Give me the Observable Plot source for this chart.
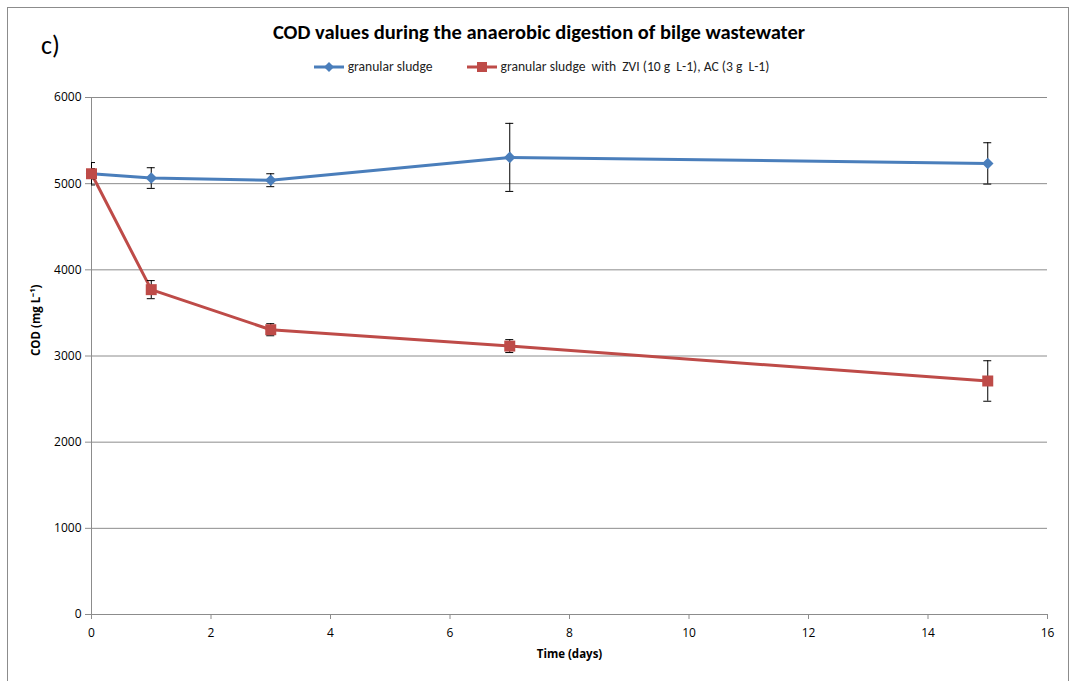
<!DOCTYPE html>
<html>
<head>
<meta charset="utf-8">
<script src="https://cdn.jsdelivr.net/npm/d3@7"></script>
<script src="https://cdn.jsdelivr.net/npm/@observablehq/plot@0.6"></script>
<style>
  html, body { margin: 0; padding: 0; background: #fff; overflow: hidden; }
  body { width: 1073px; height: 681px; position: relative; font-family: "Carlito", "Liberation Sans Narrow", "Open Sans", sans-serif; }
  #frame { position: absolute; left: 7px; top: 7px; width: 1062px; height: 700px; border: 1px solid #8c8c8c; box-sizing: border-box; }
  #panel { position: absolute; left: 41px; top: 29px; font-size: 26px; color: #000; }
  #title { position: absolute; left: 0; width: 1078px; top: 19px; text-align: center; font-weight: bold; font-size: 20.5px; color: #000; }
  #legend { position: absolute; left: 0; width: 1083px; top: 58px; text-align: center; font-size: 13.6px; color: #222; white-space: nowrap; }
  #legend span.item { display: inline-flex; align-items: center; margin: 0 17px; }
  #legend svg { margin-right: 4px; }
  #chart { position: absolute; left: 0; top: 80px; }
  #chart svg text { font-family: "Open Sans", sans-serif; }
</style>
</head>
<body>
<div id="frame"></div>
<div id="panel">c)</div>
<div id="title">COD values during the anaerobic digestion of bilge wastewater</div>
<div id="legend"></div>
<div id="chart"></div>
<script>
// ---- data ----
const days = [0, 1, 3, 7, 15];
const seriesNames = ["granular sludge", "granular sludge  with  ZVI (10 g  L-1), AC (3 g  L-1)"];
const gsCOD  = [5115, 5065, 5040, 5305, 5235];
const gsErr  = [130, 120, 75, 395, 240];
const zviCOD = [5115, 3770, 3305, 3115, 2710];
const zviErr = [60, 105, 70, 75, 235];
const xTicks = [0, 2, 4, 6, 8, 10, 12, 14, 16];
const yTicks = [0, 1000, 2000, 3000, 4000, 5000, 6000];
const colors = ["#4A7EBB", "#BE4B48"];
const symbols = ["diamond2", "square"];

const gs = days.map((d, i) => ({day: d, cod: gsCOD[i], err: gsErr[i]}));
const zvi = days.map((d, i) => ({day: d, cod: zviCOD[i], err: zviErr[i]}));

// legend
const legend = document.getElementById("legend");
seriesNames.forEach((name, k) => {
  const item = document.createElement("span");
  item.className = "item";
  const sym = k === 0
    ? `<path d="M15,1 L20,6 L15,11 L10,6 Z" fill="${colors[k]}"/>`
    : `<rect x="10" y="1" width="10" height="10" fill="${colors[k]}"/>`;
  item.innerHTML = `<svg width="30" height="12"><line x1="0" x2="30" y1="6" y2="6" stroke="${colors[k]}" stroke-width="3"/>${sym}</svg><span style="white-space:pre">${name}</span>`;
  legend.appendChild(item);
});

function seriesMarks(data, k, r) {
  return [
    Plot.line(data, {x: "day", y: "cod", stroke: colors[k], strokeWidth: 3}),
    Plot.ruleX(data, {x: "day", y1: d => d.cod - d.err, y2: d => d.cod + d.err, stroke: "#000", strokeWidth: 1}),
    Plot.ruleY(data, {x1: "day", x2: "day", y: d => d.cod + d.err, insetLeft: -4, insetRight: -4, stroke: "#000", strokeWidth: 1, clip: "frame"}),
    Plot.ruleY(data, {x1: "day", x2: "day", y: d => d.cod - d.err, insetLeft: -4, insetRight: -4, stroke: "#000", strokeWidth: 1, clip: "frame"}),
    Plot.dot(data, {x: "day", y: "cod", symbol: () => symbols[k], r: r, fill: colors[k], stroke: "none"})
  ];
}

const chart = Plot.plot({
  width: 1073,
  height: 601,
  marginLeft: 91,
  marginRight: 26,
  marginTop: 17,
  marginBottom: 67,
  style: {fontSize: "12px", color: "#000", background: "transparent"},
  x: {domain: [0, 16]},
  y: {domain: [0, 6000]},
  symbol: {type: "identity"},
  marks: [
    Plot.gridY(yTicks, {stroke: "#8c8c8c", strokeOpacity: 1, strokeWidth: 1}),
    Plot.ruleX([0], {stroke: "#8c8c8c"}),
    Plot.ruleY([0], {stroke: "#8c8c8c"}),
    Plot.axisY(yTicks, {tickSize: 6, tickPadding: 4, stroke: "#8c8c8c", label: null, tickFormat: d => String(d), fontSize: 12}),
    Plot.axisX(xTicks, {tickSize: 5, tickPadding: 9, stroke: "#8c8c8c", label: null, tickFormat: d => String(d), fontSize: 12}),
    Plot.text(["Time (days)"], {frameAnchor: "bottom", dy: 43, fontWeight: "bold", fontSize: 11.5}),
    Plot.text(["COD (mg L\u207B\u00B9)"], {frameAnchor: "left", dx: -55, rotate: -90, fontWeight: "bold", fontSize: 11.5}),
    ...seriesMarks(gs, 0, 5.2),
    ...seriesMarks(zvi, 1, 6.2)
  ]
});
document.getElementById("chart").appendChild(chart);
</script>
</body>
</html>
